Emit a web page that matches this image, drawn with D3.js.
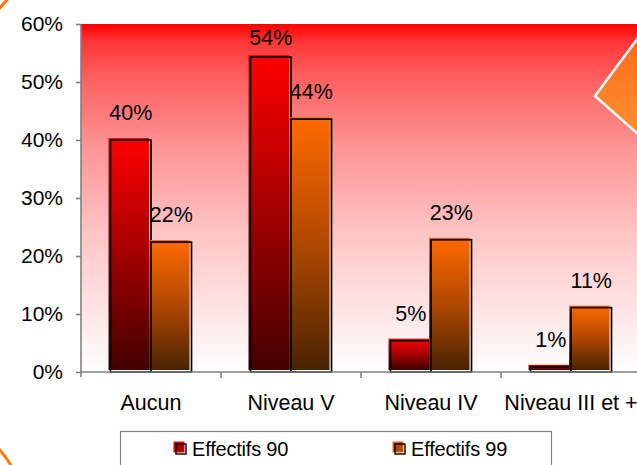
<!DOCTYPE html>
<html>
<head>
<meta charset="utf-8">
<script src="https://cdn.jsdelivr.net/npm/d3@7"></script>
<style>
  html, body { margin: 0; padding: 0; background: #fff; }
  svg { display: block; font-family: "Liberation Sans", Arial, sans-serif; }
</style>
</head>
<body>
<svg id="chart" width="637" height="465"></svg>
<script>
// Niveau de formation : répartition des effectifs 1990 / 1999
const categories = ["Aucun", "Niveau V", "Niveau IV", "Niveau III et +"];
const seriesNames = ["Effectifs 90", "Effectifs 99"];
const effectifs90 = [0.40, 0.543, 0.054, 0.009];
const effectifs99 = [0.224, 0.436, 0.228, 0.111];
const yTicks = [0, 0.1, 0.2, 0.3, 0.4, 0.5, 0.6];

const seriesValues = [effectifs90, effectifs99];
const rows = categories.map((c, i) => ({
  category: c,
  values: seriesValues.map((vals, s) => ({ series: s, value: vals[i] }))
}));

const svg = d3.select("#chart");
const W = 637, H = 465;
const plot = { left: 81, right: 641, top: 24, bottom: 372 };
const fontSize = 21.5;

const defs = svg.append("defs");

// Plot background: red fading to white
const bg = defs.append("linearGradient").attr("id", "bgGrad")
  .attr("x1", 0).attr("y1", 0).attr("x2", 0).attr("y2", 1);
[[0, "#ff0000"], [0.05, "#ff3535"], [0.15, "#ff5e5e"], [0.35, "#ff9393"],
 [0.6, "#ffc4c4"], [1, "#ffffff"]].forEach(([o, c]) =>
  bg.append("stop").attr("offset", o).attr("stop-color", c));

// Bar fills, bright at the top, dark at the base
const barColors = [["#ff0000", "#a30000", "#420000"], ["#ff6a00", "#b04800", "#4a2300"]];
barColors.forEach((cols, i) => {
  const g = defs.append("linearGradient").attr("id", "barGrad" + i)
    .attr("x1", 0).attr("y1", 0).attr("x2", 0).attr("y2", 1);
  g.append("stop").attr("offset", 0).attr("stop-color", cols[0]);
  g.append("stop").attr("offset", 0.5).attr("stop-color", cols[1]);
  g.append("stop").attr("offset", 1).attr("stop-color", cols[2]);
});

const diamondGrad = defs.append("linearGradient").attr("id", "diamondGrad")
  .attr("x1", 0).attr("y1", 0).attr("x2", 0).attr("y2", 1);
diamondGrad.append("stop").attr("offset", 0).attr("stop-color", "#ff6a1a");
diamondGrad.append("stop").attr("offset", 1).attr("stop-color", "#ff9030");

// Scales
const x = d3.scaleBand().domain(categories).range([plot.left, plot.right]).padding(0);
const xs = d3.scaleBand().domain([0, 1]).range([0, x.bandwidth()])
  .paddingInner(0).paddingOuter(0.728);
const y = d3.scaleLinear().domain([0, 0.6]).range([plot.bottom, plot.top]);

// Background
svg.append("rect")
  .attr("x", plot.left).attr("y", plot.top)
  .attr("width", plot.right - plot.left).attr("height", plot.bottom - plot.top)
  .attr("fill", "url(#bgGrad)");

// Decorative slide shapes at the edges
svg.append("path")
  .attr("d", "M595,96 L638,38 L690,96 L638,134 Z")
  .attr("fill", "url(#diamondGrad)")
  .attr("stroke", "#ffffff").attr("stroke-width", 2.5).attr("stroke-linejoin", "miter");
svg.append("path")
  .attr("d", "M-1,9 Q3,4 8,-1")
  .attr("fill", "none").attr("stroke", "#ff7a00").attr("stroke-width", 3);
svg.append("path")
  .attr("d", "M-1,449 Q6,457 12,467")
  .attr("fill", "none").attr("stroke", "#ff7a00").attr("stroke-width", 3);

// Bars
const groups = svg.append("g").selectAll("g").data(rows).join("g")
  .attr("transform", d => `translate(${x(d.category)},0)`);

const bars = groups.selectAll("g.bar").data(d => d.values).join("g").attr("class", "bar");
bars.append("rect")
  .attr("x", d => xs(d.series) - 2)
  .attr("y", d => y(d.value) - 2)
  .attr("width", xs.bandwidth())
  .attr("height", d => y(0) - y(d.value))
  .attr("fill", d => `url(#barGrad${d.series})`);
bars.append("rect")
  .attr("x", d => xs(d.series))
  .attr("y", d => y(d.value))
  .attr("width", xs.bandwidth())
  .attr("height", d => y(0) - y(d.value))
  .attr("fill", "none")
  .attr("stroke", "#000").attr("stroke-width", 1.7);

// Value labels, kept inside the plot area
const fmt = d3.format(".0%");
bars.append("text")
  .attr("x", d => xs(d.series) + xs.bandwidth() / 2)
  .attr("y", d => Math.max(y(d.value) - 20, plot.top + 21))
  .attr("text-anchor", "middle")
  .attr("font-size", fontSize)
  .attr("fill", "#000")
  .text(d => fmt(d.value));

// Y axis
const yAxis = svg.append("g")
  .attr("transform", `translate(${plot.left},0)`)
  .call(d3.axisLeft(y).tickValues(yTicks).tickFormat(d3.format(".0%")).tickSize(5).tickPadding(13));
yAxis.select(".domain").attr("stroke", "#808080").attr("stroke-width", 1.6)
  .attr("d", `M0,${plot.top}V${plot.bottom + 5}`);
yAxis.selectAll(".tick line").attr("stroke", "#808080").attr("stroke-width", 1.6);
yAxis.selectAll(".tick text").attr("font-size", 21).attr("fill", "#000")
  .attr("font-family", "'Liberation Sans', Arial, sans-serif");

// X axis
const xAxis = svg.append("g")
  .attr("transform", `translate(0,${plot.bottom})`);
xAxis.append("path")
  .attr("d", `M${plot.left},0H${W}`)
  .attr("stroke", "#808080").attr("stroke-width", 1.6);
xAxis.selectAll("line.tk").data(categories.slice(1)).join("line").attr("class", "tk")
  .attr("x1", d => x(d)).attr("x2", d => x(d))
  .attr("y1", 0).attr("y2", 6)
  .attr("stroke", "#808080").attr("stroke-width", 1.6);
xAxis.selectAll("text").data(categories).join("text")
  .attr("x", d => x(d) + x.bandwidth() / 2)
  .attr("y", 38)
  .attr("text-anchor", "middle")
  .attr("font-size", fontSize)
  .attr("fill", "#000")
  .text(d => d);

// Legend
const legend = svg.append("g");
legend.append("rect")
  .attr("x", 120.5).attr("y", 431.5).attr("width", 431).attr("height", 50)
  .attr("fill", "#fff").attr("stroke", "#808080").attr("stroke-width", 1.2);
const legendX = [174, 393];
const items = legend.selectAll("g").data(seriesNames).join("g")
  .attr("transform", (d, i) => `translate(${legendX[i]},442)`);
items.append("rect")
  .attr("x", 0).attr("y", 0).attr("width", 10).attr("height", 10)
  .attr("fill", (d, i) => barColors[i][1])
  .attr("stroke", (d, i) => barColors[i][0]).attr("stroke-width", 1);
items.append("rect")
  .attr("x", 2).attr("y", 2).attr("width", 10).attr("height", 10)
  .attr("fill", "none").attr("stroke", "#000").attr("stroke-width", 1.4);
items.append("text")
  .attr("x", 18)
  .attr("y", 14)
  .attr("font-size", 20)
  .attr("letter-spacing", -0.2)
  .attr("fill", "#000")
  .text(d => d);
</script>
</body>
</html>
